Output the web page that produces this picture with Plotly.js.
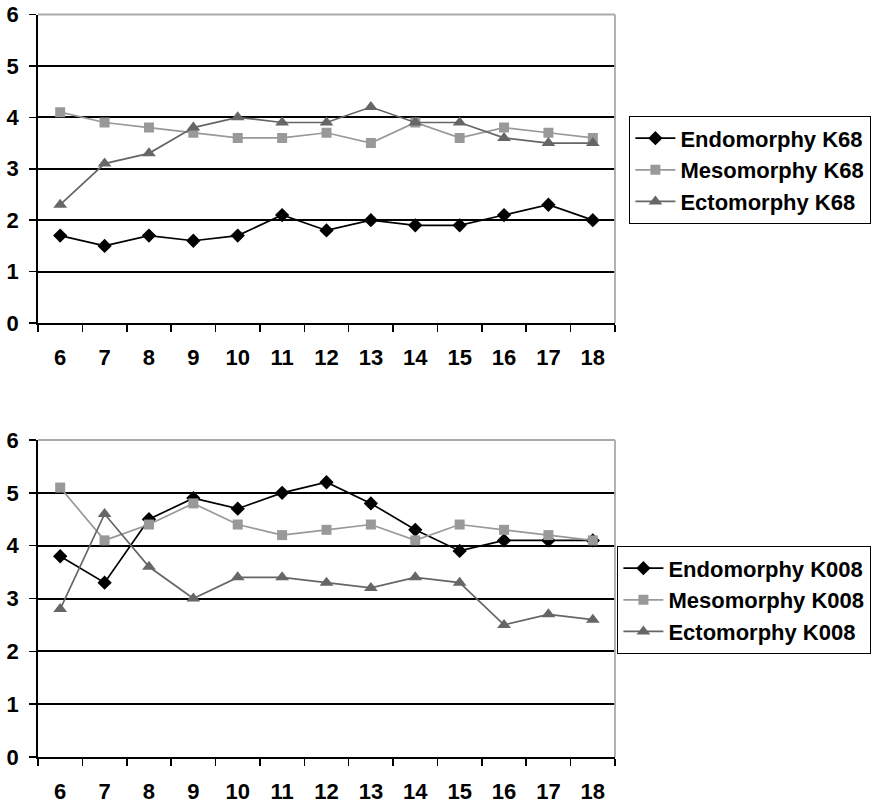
<!DOCTYPE html>
<html>
<head>
<meta charset="utf-8">
<script src="https://cdn.plot.ly/plotly-3.0.1.min.js"></script>
<style>html,body{margin:0;padding:0;background:#fff;}#chart{width:873px;height:804px;}</style>
</head>
<body>
<div id="chart"></div>
<script>
const ages = ["6","7","8","9","10","11","12","13","14","15","16","17","18"];
const endoK68 = [1.7,1.5,1.7,1.6,1.7,2.1,1.8,2.0,1.9,1.9,2.1,2.3,2.0];
const mesoK68 = [4.1,3.9,3.8,3.7,3.6,3.6,3.7,3.5,3.9,3.6,3.8,3.7,3.6];
const ectoK68 = [2.3,3.1,3.3,3.8,4.0,3.9,3.9,4.2,3.9,3.9,3.6,3.5,3.5];
const endoK008 = [3.8,3.3,4.5,4.9,4.7,5.0,5.2,4.8,4.3,3.9,4.1,4.1,4.1];
const mesoK008 = [5.1,4.1,4.4,4.8,4.4,4.2,4.3,4.4,4.1,4.4,4.3,4.2,4.1];
const ectoK008 = [2.8,4.6,3.6,3.0,3.4,3.4,3.3,3.2,3.4,3.3,2.5,2.7,2.6];
const yTicks = [0,1,2,3,4,5,6];

const W = 873, H = 804;
const FONT = "Liberation Sans, Arial, sans-serif";

function style(kind){
  if(kind==="endo") return {line:{color:"#000000",width:1.7},marker:{symbol:"diamond",size:11,color:"#000000"}};
  if(kind==="meso") return {line:{color:"#999999",width:1.7},marker:{symbol:"square",size:10,color:"#999999"}};
  return {line:{color:"#666666",width:1.7},marker:{symbol:"triangle-up",size:12,color:"#666666"}};
}
function tr(name, y, kind, xa, ya, leg){
  const s = style(kind);
  return Object.assign({type:"scatter",mode:"lines+markers",name:name,x:ages,y:y,xaxis:xa,yaxis:ya,legend:leg}, s);
}

const data = [
  tr("Endomorphy K68", endoK68, "endo", "x", "y", "legend"),
  tr("Mesomorphy K68", mesoK68, "meso", "x", "y", "legend"),
  tr("Ectomorphy K68", ectoK68, "ecto", "x", "y", "legend"),
  tr("Endomorphy K008", endoK008, "endo", "x2", "y2", "legend2"),
  tr("Mesomorphy K008", mesoK008, "meso", "x2", "y2", "legend2"),
  tr("Ectomorphy K008", ectoK008, "ecto", "x2", "y2", "legend2")
];

const xl = 38/W, xr = 615/W;
function px(y){ return 1 - y/H; }

const tickFont = {family:FONT,size:22,color:"#000",weight:"bold"};
function xaxis(anchor){
  return {anchor:anchor,domain:[xl,xr],type:"category",tickson:"boundaries",ticks:"outside",ticklen:7,tickcolor:"#000",tickwidth:1.6,
    showline:true,linecolor:"#000",linewidth:1.8,showgrid:false,zeroline:false,tickfont:tickFont,ticklabelstandoff:14,range:[-0.5,12.5],fixedrange:true};
}
function yaxis(anchor, dom){
  return {anchor:anchor,domain:dom,range:[0,6],tickvals:yTicks,ticktext:yTicks.map(String),ticks:"outside",ticklen:7,tickcolor:"#000",tickwidth:1.6,
    showline:true,linecolor:"#000",linewidth:1.8,showgrid:true,gridcolor:"#000",gridwidth:2,zeroline:false,tickfont:tickFont,ticklabelstandoff:6,fixedrange:true};
}
const legFont = {family:FONT,size:22,color:"#000",weight:"bold"};

const layout = {
  width:W,height:H,margin:{l:0,r:0,t:0,b:0},paper_bgcolor:"#fff",plot_bgcolor:"#fff",showlegend:true,
  font:{family:FONT,color:"#000",weight:"bold"},
  xaxis:xaxis("y"), yaxis:yaxis("x",[px(323),px(14.5)]),
  xaxis2:xaxis("y2"), yaxis2:yaxis("x2",[px(757),px(440)]),
  legend:{x:629/W,y:px(116),xanchor:"left",yanchor:"top",bordercolor:"#000",borderwidth:1.4,bgcolor:"#fff",font:legFont,tracegroupgap:0,itemwidth:40},
  legend2:{x:617/W,y:px(546),xanchor:"left",yanchor:"top",bordercolor:"#000",borderwidth:1.4,bgcolor:"#fff",font:legFont,tracegroupgap:0,itemwidth:40},
  shapes:[
    {type:"line",xref:"x domain",yref:"y domain",x0:0,x1:1,y0:1,y1:1,line:{color:"#aaaaaa",width:1.8},layer:"above"},
    {type:"line",xref:"x domain",yref:"y domain",x0:1,x1:1,y0:0,y1:1,line:{color:"#aaaaaa",width:1.8},layer:"above"},
    {type:"line",xref:"x2 domain",yref:"y2 domain",x0:0,x1:1,y0:1,y1:1,line:{color:"#aaaaaa",width:1.8},layer:"above"},
    {type:"line",xref:"x2 domain",yref:"y2 domain",x0:1,x1:1,y0:0,y1:1,line:{color:"#aaaaaa",width:1.8},layer:"above"}
  ]
};
Plotly.newPlot("chart", data, layout, {displayModeBar:false,staticPlot:true});
</script>
</body>
</html>
